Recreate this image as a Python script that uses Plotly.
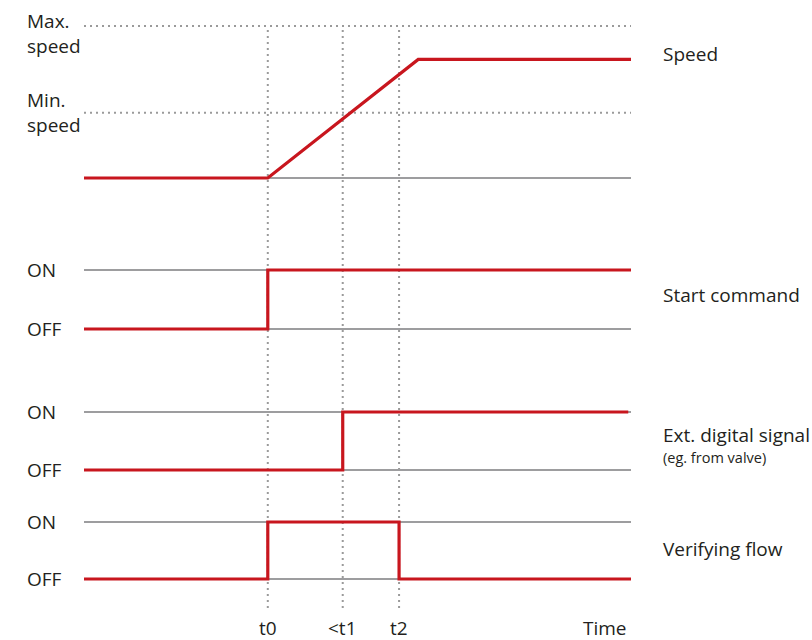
import plotly.graph_objects as go

# ---------------- data ----------------
time_end = 100
t0, t1, t2 = 33.6, 47.3, 57.6
ramp_end = 61.1

speed_time = [0, t0, ramp_end, time_end]
speed_val = [0, 0, 78, 78]
min_speed = 43
max_speed = 100

start_time = [0, t0, t0, time_end]
start_state = [0, 0, 1, 1]

ext_time = [0, t1, t1, 99.5]
ext_state = [0, 0, 1, 1]

verify_time = [0, t0, t0, t2, t2, time_end]
verify_state = [0, 0, 1, 1, 0, 0]

marker_times = [t0, t1, t2]
marker_labels = ["t0", "<t1", "t2"]

track_names = ["Speed", "Start command", "Ext. digital signal", "Verifying flow"]
state_labels = ["OFF", "ON"]
speed_labels = ["Max.<br>speed", "Min.<br>speed"]

# ---------------- style / layout ----------------
W, H = 812, 640
RED = "#c8161e"
GRAY = "#9d9d9f"
DOT = "#9a9a9a"
TXT = "#231f20"
FONT = "Open Sans"
FS = 19

def ydomain(v0, p0, v1, p1, r0, r1):
    k = (p0 - p1) / (v1 - v0)
    bottom = p0 + (v0 - r0) * k
    top = p1 - (r1 - v1) * k
    return [1 - bottom / H, 1 - top / H]

# x: value 0 -> px 84, 100 -> px 631
xr = [-3, 103]
kx = (631 - 84) / 100
xdom = [(84 + (xr[0]) * kx) / W, (631 + (xr[1] - 100) * kx) / W]

def ppx(p):
    return 1 - p / H

fig = go.Figure()

# Speed track (yaxis)
sp_range = [-5, 105]
fig.add_trace(go.Scatter(x=[0, time_end], y=[max_speed, max_speed], mode="lines",
                         line=dict(color=DOT, width=2, dash="2px,4px"), yaxis="y", hoverinfo="skip"))
fig.add_trace(go.Scatter(x=[0, time_end], y=[min_speed, min_speed], mode="lines",
                         line=dict(color=DOT, width=2, dash="2px,4px"), yaxis="y", hoverinfo="skip"))
fig.add_trace(go.Scatter(x=[0, time_end], y=[0, 0], mode="lines",
                         line=dict(color=GRAY, width=2), yaxis="y", hoverinfo="skip"))
fig.add_trace(go.Scatter(x=speed_time, y=speed_val, mode="lines",
                         line=dict(color=RED, width=3.2), yaxis="y", hoverinfo="skip"))

tracks = [
    ("y2", start_time, start_state),
    ("y3", ext_time, ext_state),
    ("y4", verify_time, verify_state),
]
for ax, tt, ss in tracks:
    for lvl in (0, 1):
        fig.add_trace(go.Scatter(x=[0, time_end], y=[lvl, lvl], mode="lines",
                                 line=dict(color=GRAY, width=2), yaxis=ax, hoverinfo="skip"))
    fig.add_trace(go.Scatter(x=tt, y=ss, mode="lines",
                             line=dict(color=RED, width=3.2), yaxis=ax, hoverinfo="skip"))

# vertical dotted markers
for t in marker_times:
    fig.add_shape(type="line", xref="x", yref="paper", x0=t, x1=t,
                  y0=ppx(608), y1=ppx(28), line=dict(color=DOT, width=2, dash="2px,4px"), layer="below")

ann = []
def A(text, x, y, xref="paper", yref="paper", xanchor="left", size=FS, **kw):
    ann.append(dict(text=text, x=x, y=y, xref=xref, yref=yref, xanchor=xanchor, align="left",
                    yanchor="middle", showarrow=False, font=dict(family=FONT, size=size, color=TXT), **kw))

LX = 25 / W
A(speed_labels[0], LX, ppx(34))
A(speed_labels[1], LX, ppx(113))

for ax in ("y2", "y3", "y4"):
    A(state_labels[1], LX, 1, yref=ax)
    A(state_labels[0], LX, 0, yref=ax)

RX = 661 / W
A(track_names[0], RX, ppx(54))
A(track_names[1], RX, ppx(295))
A(track_names[2], RX, ppx(435))
A("(eg. from valve)", RX, ppx(457), size=14.5)
A(track_names[3], RX, ppx(549))

for t, lab in zip(marker_times, marker_labels):
    A(lab, t, ppx(628), xref="x", xanchor="center")
A("Time", time_end, ppx(628), xref="x", xanchor="right", xshift=-2)

hidden = dict(visible=False, fixedrange=True)
fig.update_layout(
    width=W, height=H,
    margin=dict(l=0, r=0, t=0, b=0),
    paper_bgcolor="white", plot_bgcolor="white",
    showlegend=False,
    xaxis=dict(range=xr, domain=xdom, anchor="y", **hidden),
    yaxis=dict(range=sp_range, domain=ydomain(0, 178, 100, 26, *sp_range), anchor="x", **hidden),
    yaxis2=dict(range=[-0.2, 1.2], domain=ydomain(0, 329, 1, 270, -0.2, 1.2), anchor="x", **hidden),
    yaxis3=dict(range=[-0.2, 1.2], domain=ydomain(0, 470, 1, 412, -0.2, 1.2), anchor="x", **hidden),
    yaxis4=dict(range=[-0.2, 1.2], domain=ydomain(0, 579, 1, 522, -0.2, 1.2), anchor="x", **hidden),
    annotations=ann,
)

fig.write_html("out.html", config={"displayModeBar": False},
               post_script="document.body.style.margin='0';document.body.style.overflow='hidden';")
